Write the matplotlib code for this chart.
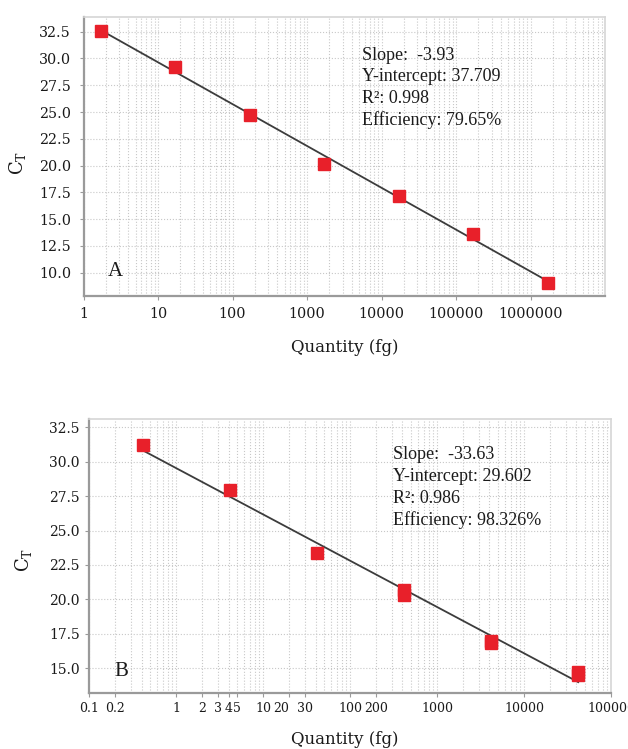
import numpy as np
import matplotlib.pyplot as plt
from matplotlib.ticker import FixedLocator, FixedFormatter, LogLocator, NullFormatter, FormatStrFormatter

# standard curve A (10-fold dilutions)
qty_a = [1.7, 17, 170, 1700, 17000, 170000, 1700000]
ct_a = [32.6, 29.2, 24.75, 20.15, 17.12, 13.65, 9.05]
ticks_a = [1, 10, 100, 1000, 10000, 100000, 1000000]
ticklabels_a = ['1', '10', '100', '1000', '10000', '100000', '1000000']
stats_a = ['Slope:  -3.93', 'Y-intercept: 37.709', 'R²: 0.998', 'Efficiency: 79.65%']

# standard curve B (replicates at some dilutions)
qty_b = [0.42, 4.2, 42, 420, 420, 4200, 4200, 42000, 42000]
ct_b = [31.2, 27.95, 23.35, 20.65, 20.3, 16.95, 16.8, 14.72, 14.5]
ticks_b = [0.1, 0.2, 1, 2, 3, 4, 5, 10, 20, 30, 100, 200, 1000, 10000, 100000]
ticklabels_b = ['0.1', '0.2', '1', '2', '3', '4', '5', '10', '20', '30', '100', '200',
                '1000', '10000', '100000']
stats_b = ['Slope:  -33.63', 'Y-intercept: 29.602', 'R²: 0.986', 'Efficiency: 98.326%']

yticks_a = [10.0, 12.5, 15.0, 17.5, 20.0, 22.5, 25.0, 27.5, 30.0, 32.5]
yticks_b = [15.0, 17.5, 20.0, 22.5, 25.0, 27.5, 30.0, 32.5]

plt.rcParams['mathtext.fontset'] = 'dejavuserif'

W, H = 628, 749
fig = plt.figure(figsize=(W / 100, H / 100), dpi=100)


def pix(x, y):
    # pixel position (from top-left) -> figure fraction
    return x / W, 1 - y / H


def draw_panel(ax, qty, ct, ticks, ticklabels, yticks, ylim, xlim, xtick_fs, ytick_fs):
    ax.set_xscale('log')
    ax.set_xlim(xlim)
    ax.set_ylim(ylim)

    ax.xaxis.set_major_locator(FixedLocator(ticks))
    ax.xaxis.set_major_formatter(FixedFormatter(ticklabels))
    ax.xaxis.set_minor_locator(LogLocator(base=10, subs=np.arange(2, 10), numticks=20))
    ax.xaxis.set_minor_formatter(NullFormatter())
    ax.set_yticks(yticks)
    ax.yaxis.set_major_formatter(FormatStrFormatter('%.1f'))

    ax.grid(True, which='both', axis='x', ls=':', color='#c8c8c8', lw=0.8)
    ax.grid(True, which='major', axis='y', ls=':', color='#c8c8c8', lw=0.8)
    ax.set_axisbelow(True)

    for s in ['left', 'bottom']:
        ax.spines[s].set_color('#9a9a9a')
        ax.spines[s].set_linewidth(1.6)
    for s in ['top', 'right']:
        ax.spines[s].set_color('#d6d6d6')
        ax.spines[s].set_linewidth(1.2)

    ax.tick_params(which='major', length=3, color='#9a9a9a', labelcolor='#1a1a1a')
    ax.tick_params(axis='x', labelsize=xtick_fs)
    ax.tick_params(axis='y', labelsize=ytick_fs)
    ax.tick_params(which='minor', length=0)
    for lab in ax.get_xticklabels() + ax.get_yticklabels():
        lab.set_family('DejaVu Serif')

    # regression line from the points
    lx = np.log10(qty)
    m, b = np.polyfit(lx, ct, 1)
    xs = np.array([min(lx), max(lx)])
    ax.plot(10 ** xs, m * xs + b, color='#3c3c3c', lw=1.3, zorder=3)
    ax.plot(qty, ct, ls='none', marker='s', ms=8, color='#e8202a', mec='#e8202a', zorder=4)


# panel A
axA = fig.add_axes([83.5 / W, 1 - 296 / H, 521.5 / W, 279.3 / H])
draw_panel(axA, qty_a, ct_a, ticks_a, ticklabels_a, yticks_a, (7.82, 33.9), (1, 1e7), 10.3, 10.3)
axA.tick_params(axis='x', pad=5)
axA.tick_params(axis='y', pad=6)

# panel B
axB = fig.add_axes([89.3 / W, 1 - 693.3 / H, 521.7 / W, 274 / H])
draw_panel(axB, qty_b, ct_b, ticks_b, ticklabels_b, yticks_b, (13.18, 33.08), (0.1, 1e5), 9, 10)
axB.tick_params(axis='x', pad=3)
axB.tick_params(axis='y', pad=4)
# the crowded "20" label sits a little left of its tick in the original
for lab in axB.get_xticklabels():
    if lab.get_text() == '20':
        lab.set_ha('right')

# axis labels
for ax, lab_y in [(axA, 348), (axB, 739)]:
    ax.set_xlabel('Quantity (fg)', family='DejaVu Serif', fontsize=12, color='#1a1a1a')
    ax.xaxis.set_label_coords(*pix(345, lab_y), transform=fig.transFigure)
    ax.xaxis.label.set_va('center')
    ax.set_ylabel(r'C$_\mathrm{T}$', family='DejaVu Serif', fontsize=13, color='#1a1a1a')

axA.yaxis.set_label_coords(*pix(17, 163), transform=fig.transFigure)
axB.yaxis.set_label_coords(*pix(23, 560), transform=fig.transFigure)
axA.yaxis.label.set_va('center')
axB.yaxis.label.set_va('center')

# fit statistics
for i, line in enumerate(stats_a):
    fig.text(*pix(361.7, 55 + 21.7 * i), line, family='Liberation Serif', fontsize=13,
             color='#1a1a1a', ha='left', va='center')
for i, line in enumerate(stats_b):
    fig.text(*pix(393.3, 455 + 21.7 * i), line, family='Liberation Serif', fontsize=13,
             color='#1a1a1a', ha='left', va='center')

# panel letters
fig.text(*pix(115, 271), 'A', family='Liberation Serif', fontsize=15, color='#1a1a1a',
         ha='center', va='center')
fig.text(*pix(121, 671), 'B', family='Liberation Serif', fontsize=15, color='#1a1a1a',
         ha='center', va='center')

fig.savefig('out.png', dpi=100, facecolor='white')
